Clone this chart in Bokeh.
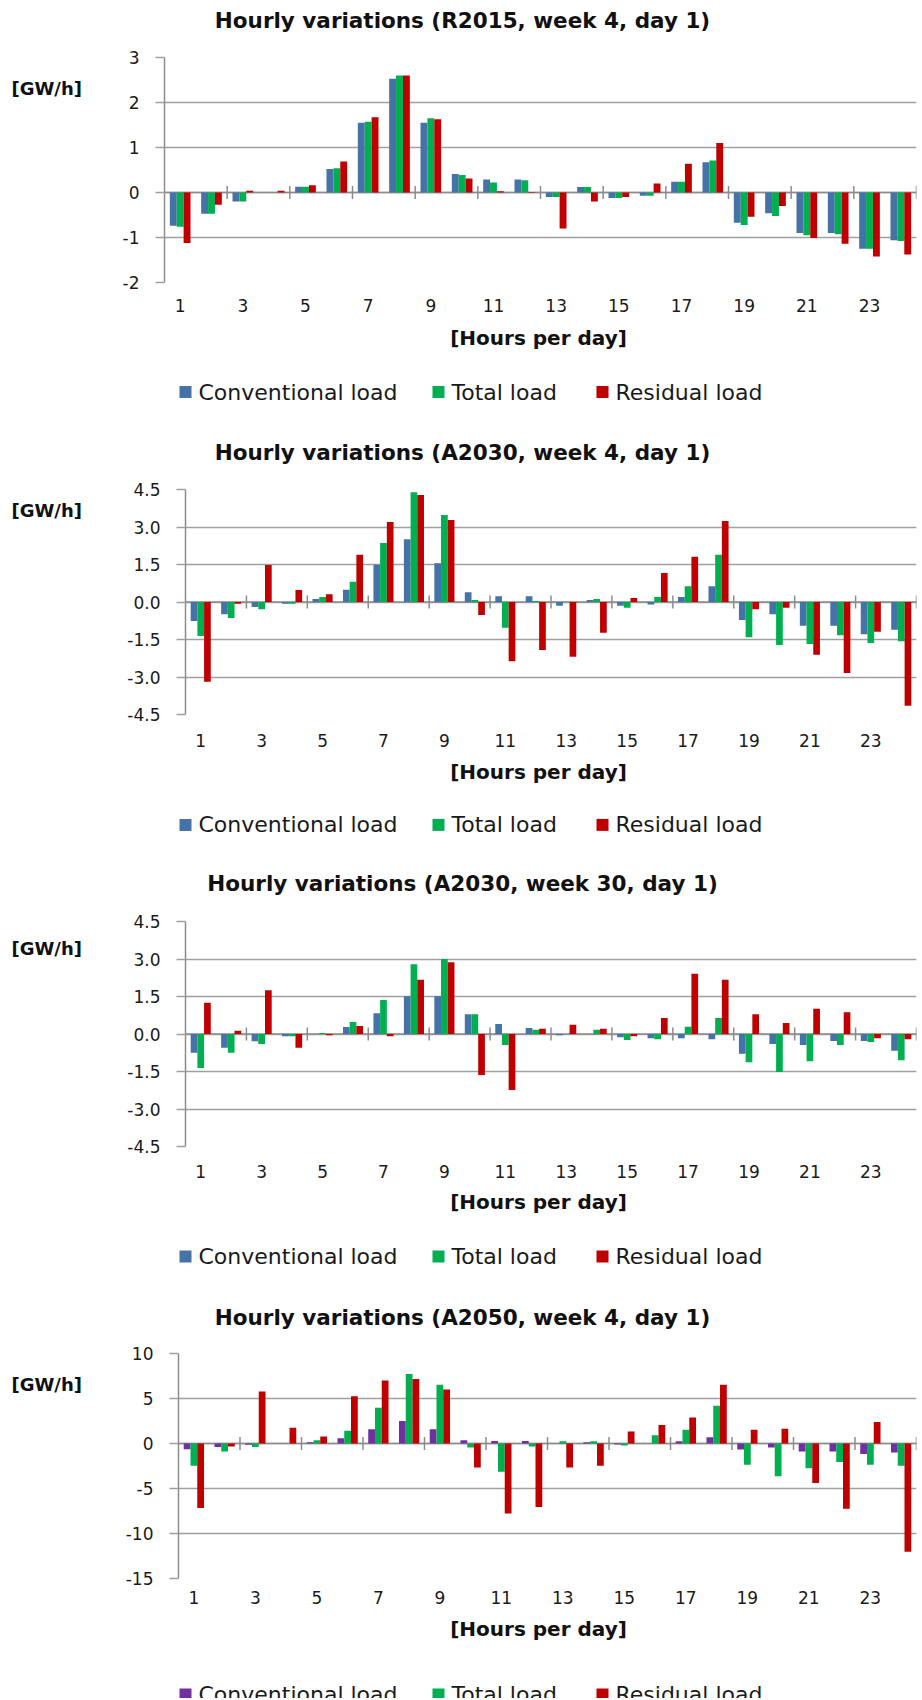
import numpy as np
from bokeh.plotting import figure
from bokeh.models import ColumnDataSource, Range1d, FixedTicker, NumeralTickFormatter, Span
from bokeh.layouts import column, row
from bokeh.transform import dodge
from bokeh.core.properties import value
from bokeh.embed import file_html
from bokeh.resources import INLINE

# ---------------- data ----------------
hours = list(range(1, 25))
series_names = ["Conventional load", "Total load", "Residual load"]
x_axis_title = "[Hours per day]"
y_axis_title = "[GW/h]"

title_r2015_w4 = "Hourly variations (R2015, week 4, day 1)"
r2015_w4_conventional = [-0.74, -0.47, -0.20, 0.00, 0.13, 0.52, 1.55, 2.53, 1.55, 0.41, 0.29, 0.29,
                         -0.10, 0.12, -0.12, -0.07, 0.24, 0.67, -0.67, -0.46, -0.90, -0.90, -1.25, -1.06]
r2015_w4_total = [-0.76, -0.47, -0.20, 0.00, 0.13, 0.54, 1.57, 2.60, 1.65, 0.39, 0.22, 0.27,
                  -0.10, 0.12, -0.12, -0.07, 0.24, 0.71, -0.72, -0.52, -0.95, -0.93, -1.25, -1.08]
r2015_w4_residual = [-1.12, -0.27, 0.04, 0.04, 0.16, 0.69, 1.67, 2.60, 1.63, 0.31, 0.03, 0.01,
                     -0.80, -0.20, -0.10, 0.20, 0.64, 1.10, -0.54, -0.30, -1.01, -1.14, -1.42, -1.38]

title_a2030_w4 = "Hourly variations (A2030, week 4, day 1)"
a2030_w4_conventional = [-0.76, -0.49, -0.20, -0.07, 0.12, 0.49, 1.49, 2.51, 1.55, 0.39, 0.23, 0.23,
                         -0.15, 0.08, -0.15, -0.10, 0.20, 0.63, -0.72, -0.49, -0.95, -0.95, -1.29, -1.11]
a2030_w4_total = [-1.36, -0.64, -0.29, -0.07, 0.20, 0.81, 2.36, 4.39, 3.48, 0.08, -1.03, 0.04,
                  0.00, 0.12, -0.23, 0.20, 0.63, 1.89, -1.41, -1.72, -1.68, -1.33, -1.64, -1.57]
a2030_w4_residual = [-3.19, -0.07, 1.48, 0.48, 0.31, 1.89, 3.20, 4.28, 3.28, -0.52, -2.37, -1.92,
                     -2.19, -1.23, 0.16, 1.16, 1.81, 3.24, -0.29, -0.23, -2.11, -2.84, -1.19, -4.15]

title_a2030_w30 = "Hourly variations (A2030, week 30, day 1)"
a2030_w30_conventional = [-0.75, -0.55, -0.29, -0.09, 0.00, 0.28, 0.83, 1.51, 1.51, 0.79, 0.40, 0.24,
                          -0.05, 0.00, -0.13, -0.17, -0.17, -0.21, -0.79, -0.40, -0.44, -0.28, -0.28, -0.67]
a2030_w30_total = [-1.36, -0.75, -0.40, -0.09, 0.04, 0.48, 1.36, 2.79, 3.00, 0.79, -0.44, 0.17,
                   0.00, 0.17, -0.24, -0.21, 0.29, 0.64, -1.13, -1.52, -1.09, -0.44, -0.32, -1.05]
a2030_w30_residual = [1.25, 0.13, 1.75, -0.55, -0.05, 0.32, -0.09, 2.17, 2.87, -1.64, -2.24, 0.21,
                      0.37, 0.21, -0.09, 0.64, 2.41, 2.17, 0.79, 0.44, 1.01, 0.87, -0.17, -0.21]

title_a2050_w4 = "Hourly variations (A2050, week 4, day 1)"
a2050_w4_conventional = [-0.63, -0.40, -0.15, 0.00, 0.15, 0.59, 1.58, 2.50, 1.58, 0.37, 0.29, 0.29,
                         0.00, 0.15, -0.11, 0.00, 0.26, 0.70, -0.66, -0.44, -0.88, -0.88, -1.18, -0.99]
a2050_w4_total = [-2.46, -0.88, -0.40, 0.00, 0.37, 1.43, 3.97, 7.72, 6.54, -0.44, -3.13, -0.33,
                  0.26, 0.26, -0.22, 0.92, 1.54, 4.19, -2.35, -3.64, -2.76, -2.06, -2.35, -2.46]
a2050_w4_residual = [-7.17, -0.33, 5.77, 1.76, 0.77, 5.26, 6.99, 7.17, 5.99, -2.68, -7.79, -7.06,
                     -2.68, -2.46, 1.32, 2.06, 2.90, 6.54, 1.54, 1.65, -4.38, -7.24, 2.39, -12.02]

# ---------------- style / layout ----------------
BLUE = "#4572A7"
PURPLE = "#7030A0"
GREEN = "#00B050"
RED = "#C00000"
GRID = "#a0a0a0"
AXIS = "#8c8c8c"
TXT = "#1a1a1a"
FONT = "DejaVu Sans"
PAGE_W = 920          # total layout width
UNIT_W = 108          # width of the strip holding the unit label
BORDER_R = 4
FRAME_H = 225
PAD_T = 12
BW = 0.22
FS_TICK, FS_TITLE, FS_UNIT, FS_XT, FS_LEG = 17, 21.5, 18, 20, 22
LEG_SQ_X = [185, 438, 602]     # page x centres of the legend squares
LEG_TXT_X = [198, 451, 615]    # page x where the legend texts start
LEG_SQ = 12

panels = [
    dict(title=title_r2015_w4, data=(r2015_w4_conventional, r2015_w4_total, r2015_w4_residual),
         c0=BLUE, ymin=-2, ymax=3, step=1, fmt="0",
         top=0, height=428, frame_top=57, frame_left=164, xs=16, pad_b=40,
         title_y=19.5, ylab_y=83.5, xt_y=337.3, leg_y=391.6),
    dict(title=title_a2030_w4, data=(a2030_w4_conventional, a2030_w4_total, a2030_w4_residual),
         c0=BLUE, ymin=-4.5, ymax=4.5, step=1.5, fmt="0.0",
         top=428, height=432, frame_top=489, frame_left=185, xs=19, pad_b=40,
         title_y=452.3, ylab_y=503.3, xt_y=771.2, leg_y=824.4),
    dict(title=title_a2030_w30, data=(a2030_w30_conventional, a2030_w30_total, a2030_w30_residual),
         c0=BLUE, ymin=-4.5, ymax=4.5, step=1.5, fmt="0.0",
         top=860, height=430, frame_top=921, frame_left=185, xs=18, pad_b=40,
         title_y=883.0, ylab_y=942.6, xt_y=1201.9, leg_y=1256.1),
    dict(title=title_a2050_w4, data=(a2050_w4_conventional, a2050_w4_total, a2050_w4_residual),
         c0=PURPLE, ymin=-15, ymax=10, step=5, fmt="0",
         top=1290, height=408, frame_top=1353, frame_left=178, xs=12, pad_b=34,
         title_y=1316.9, ylab_y=1378.7, xt_y=1628.0, leg_y=1694.0),
]


def blank(width, height):
    """A figure whose frame is the whole canvas, with pixel data coordinates (y down)."""
    f = figure(width=width, height=height, x_range=Range1d(0, width), y_range=Range1d(height, 0),
               output_backend="svg", toolbar_location=None, title=None,
               x_axis_type=None, y_axis_type=None, min_border=0, outline_line_color=None,
               background_fill_color="white", border_fill_color="white")
    f.xgrid.visible = False
    f.ygrid.visible = False
    return f


def add_text(f, x, y, txt, size, align="left", bold=True):
    f.text(x=[x], y=[y], text=[txt], text_align=align, text_baseline="middle",
           text_font=value(FONT), text_font_size=f"{size}px",
           text_font_style="bold" if bold else "normal",
           text_color="#111111" if bold else TXT)


def make_panel(cfg):
    conv, total, resid = cfg["data"]
    ymin, ymax, step = cfg["ymin"], cfg["ymax"], cfg["step"]
    top, ft, fl = cfg["top"], cfg["frame_top"], cfg["frame_left"]
    header_h = ft - PAD_T - top
    mid_top = ft - PAD_T
    mid_h = PAD_T + FRAME_H + cfg["pad_b"]
    foot_top = mid_top + mid_h
    foot_h = cfg["height"] - header_h - mid_h

    # ---- header with the chart title
    head = blank(PAGE_W, header_h)
    add_text(head, 462, cfg["title_y"] - top, cfg["title"], FS_TITLE, align="center")

    # ---- unit label strip
    unit = blank(UNIT_W, mid_h)
    add_text(unit, 11, cfg["ylab_y"] - mid_top, y_axis_title, FS_UNIT)

    # ---- chart
    chart_w = PAGE_W - UNIT_W
    bl = fl - UNIT_W
    p = figure(width=chart_w, height=mid_h, x_range=Range1d(0.5, len(hours) + 0.5),
               y_range=Range1d(ymin, ymax), output_backend="svg", toolbar_location=None,
               title=None, min_border_left=bl, min_border_right=BORDER_R,
               min_border_top=PAD_T, min_border_bottom=cfg["pad_b"], outline_line_color=None,
               background_fill_color="white", border_fill_color="white")

    src = ColumnDataSource(dict(hour=hours, conv=conv, total=total, resid=resid))
    p.vbar(x=dodge("hour", -BW), top="conv", bottom=0, width=BW, source=src,
           fill_color=cfg["c0"], line_color=None)
    p.vbar(x=dodge("hour", 0.0), top="total", bottom=0, width=BW, source=src,
           fill_color=GREEN, line_color=None)
    p.vbar(x=dodge("hour", BW), top="resid", bottom=0, width=BW, source=src,
           fill_color=RED, line_color=None)

    # category axis line at zero, with tick marks between every second category
    p.add_layout(Span(location=0, dimension="width", line_color=AXIS, line_width=1.5,
                      level="underlay"))
    bounds = [h + 0.5 for h in hours if h % 2 == 0]
    p.scatter(x=bounds, y=[0] * len(bounds), marker="dash", angle=np.pi / 2, size=13,
              line_color=AXIS, line_width=1.5)

    xa = p.xaxis[0]
    xa.ticker = FixedTicker(ticks=hours[::2])
    xa.axis_line_color = None
    xa.major_tick_line_color = None
    xa.minor_tick_line_color = None
    xa.major_tick_out = 0
    xa.major_tick_in = 0
    xa.major_label_standoff = cfg["xs"]
    xa.major_label_text_font = FONT
    xa.major_label_text_font_size = f"{FS_TICK}px"
    xa.major_label_text_color = TXT
    p.xgrid.grid_line_color = None

    n = int(round((ymax - ymin) / step))
    yt = [round(ymin + i * step, 3) for i in range(n + 1)]
    ya = p.yaxis[0]
    ya.ticker = FixedTicker(ticks=yt)
    ya.formatter = NumeralTickFormatter(format=cfg["fmt"])
    ya.axis_line_color = AXIS
    ya.axis_line_width = 1.5
    ya.major_tick_line_color = GRID
    ya.major_tick_line_width = 1.5
    ya.major_tick_out = 9
    ya.major_tick_in = 0
    ya.minor_tick_line_color = None
    ya.major_label_standoff = 16
    ya.major_label_text_font = FONT
    ya.major_label_text_font_size = f"{FS_TICK}px"
    ya.major_label_text_color = TXT
    p.ygrid.ticker = FixedTicker(ticks=yt)
    p.ygrid.grid_line_color = GRID
    p.ygrid.grid_line_width = 1.5

    # ---- footer with axis title and legend
    foot = blank(PAGE_W, foot_h)
    add_text(foot, 538, cfg["xt_y"] - foot_top, x_axis_title, FS_XT, align="center")
    colors = [cfg["c0"], GREEN, RED]
    ly = cfg["leg_y"] - foot_top
    foot.scatter(x=LEG_SQ_X, y=[ly] * 3, marker="square", size=LEG_SQ,
                 fill_color=colors, line_color=None)
    for name, tx in zip(series_names, LEG_TXT_X):
        add_text(foot, tx, ly, name, FS_LEG, bold=False)

    return [head, row(unit, p, spacing=0), foot]


children = []
for c in panels:
    children.extend(make_panel(c))
layout = column(*children, spacing=0)

open("out.html", "w").write(file_html(layout, INLINE))
